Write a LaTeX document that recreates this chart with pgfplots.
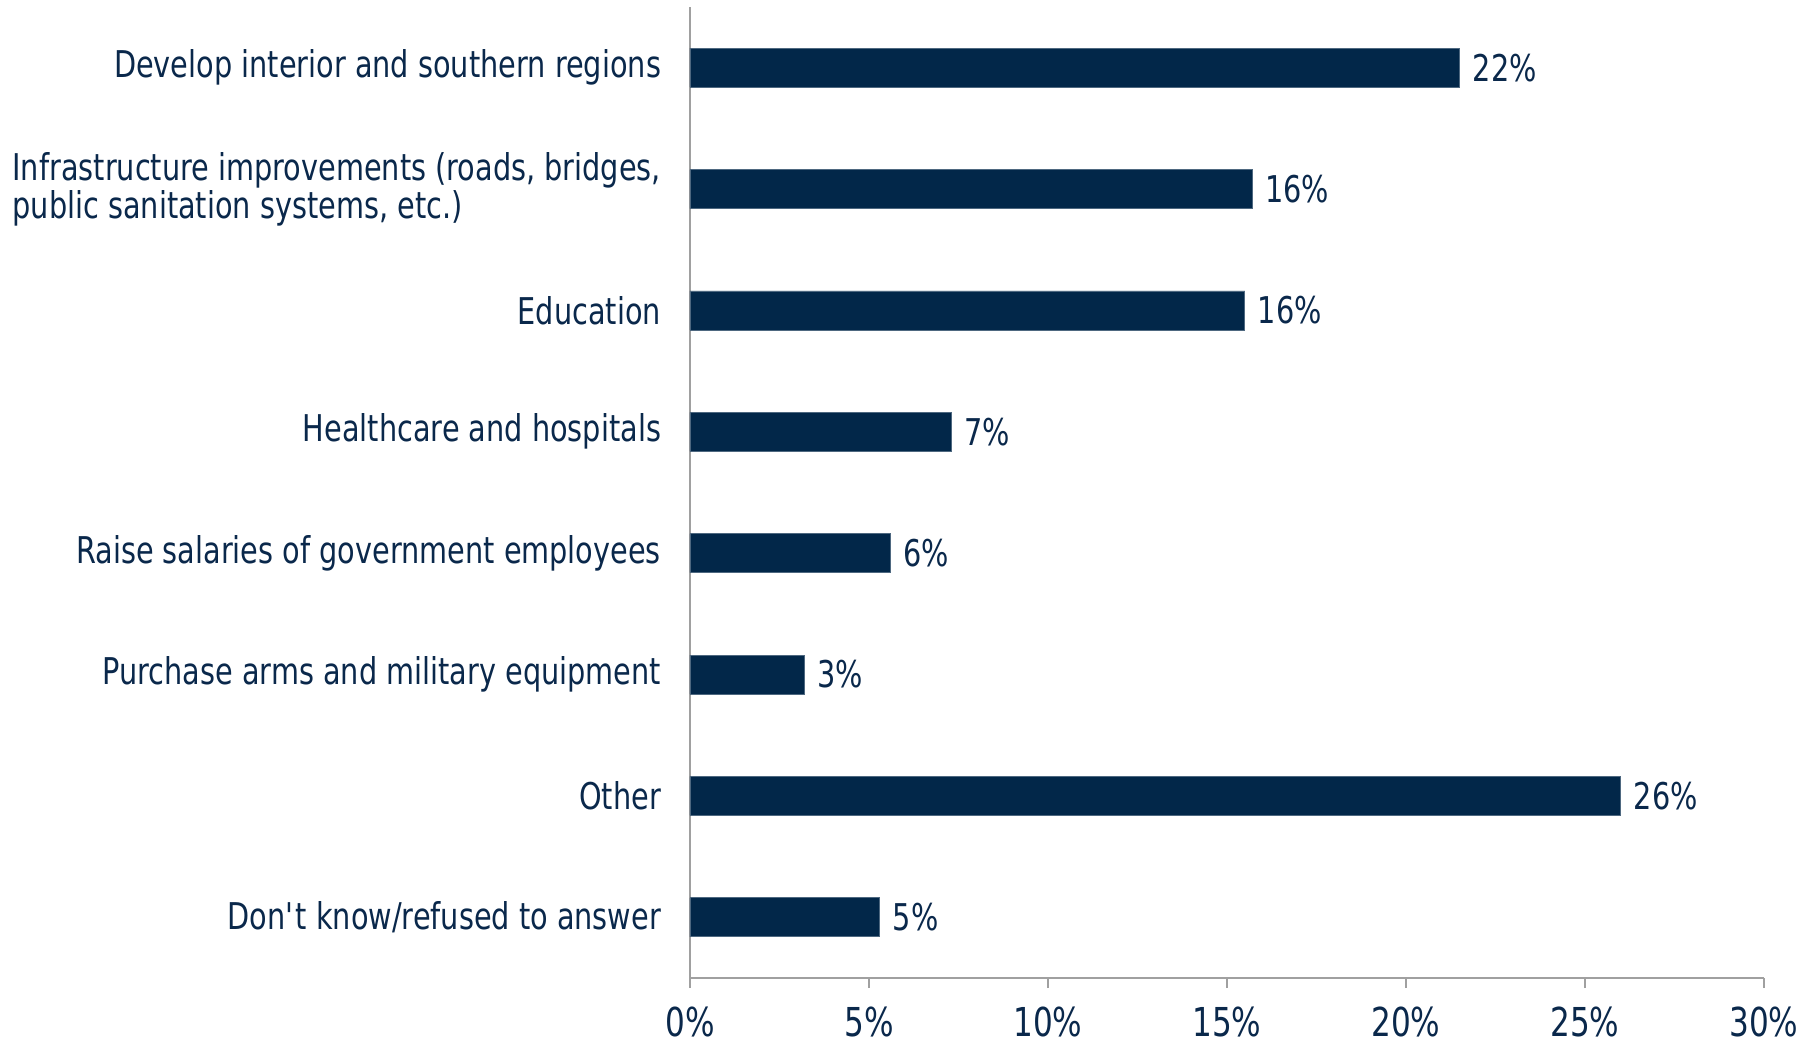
\documentclass[border=0pt]{standalone}
\usepackage{fontspec}
\setmainfont[FakeStretch=0.78]{DejaVu Sans}
\usepackage{pgfplots}
\pgfplotsset{compat=1.18}
\definecolor{navy}{RGB}{2,39,73}
\definecolor{txt}{RGB}{10,40,75}
\definecolor{axgray}{RGB}{160,160,160}
\begin{document}
\begin{tikzpicture}
\path[use as bounding box] (-345bp,-31.5bp) rectangle (562bp,489bp);
\begin{axis}[
  at={(0,0)}, anchor=south west,
  scale only axis,
  width=537bp, height=485.5bp,
  xmin=0, xmax=30,
  ymin=-0.5, ymax=7.5,
  y dir=reverse,
  xbar, bar width=19.5bp,
  axis lines*=left,
  axis line style={axgray, line width=0.8bp},
  every tick/.style={axgray, line width=0.8bp},
  xtick={0,5,...,30},
  xticklabels={0\%,5\%,10\%,15\%,20\%,25\%,30\%},
  xtick align=outside,
  major tick length=5bp,
  ytick={0,...,7},
  yticklabels={Develop interior and southern regions,
    {Infrastructure improvements (roads, bridges,\\public sanitation systems, etc.)},
    Education, Healthcare and hospitals, Raise salaries of government employees,
    Purchase arms and military equipment, Other, Don\textquotesingle t know/refused to answer},
  ytick style={draw=none},
  minor ytick={-0.5,0.5,...,7.5},
  minor tick length=5bp,
  every minor tick/.style={axgray, line width=0.8bp, xshift=-2.5bp},
  yticklabel style={align=left, font=\fontsize{18.5}{19}\selectfont, text=txt, xshift=-6bp},
  xticklabel style={font=\fontsize{20}{22}\selectfont, text=txt, yshift=-6bp},
  clip=false,
  point meta=explicit symbolic,
  nodes near coords,
  nodes near coords style={font=\fontsize{18.5}{19}\selectfont, text=txt, anchor=west, xshift=3bp},
]
\addplot[fill=navy, draw=navy!70!white, line width=0.4bp] coordinates {
  (21.5,0) [22\%]
  (15.7,1) [16\%]
  (15.5,2) [16\%]
  (7.3,3) [7\%]
  (5.6,4) [6\%]
  (3.2,5) [3\%]
  (26.0,6) [26\%]
  (5.3,7) [5\%]
};
\end{axis}
\end{tikzpicture}
\end{document}
